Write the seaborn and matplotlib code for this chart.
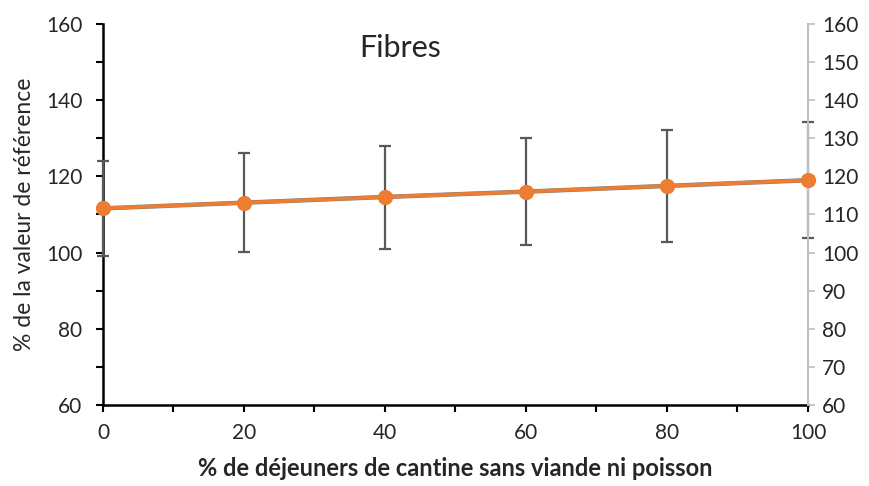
import numpy as np
import matplotlib
matplotlib.use("Agg")
import matplotlib.pyplot as plt
import seaborn as sns
import pandas as pd
from matplotlib.ticker import MultipleLocator

# Données
pct_sans_viande = [0, 20, 40, 60, 80, 100]
moyenne = [111.6, 113.1, 114.6, 116.0, 117.5, 119.0]
borne_haute = [124.0, 126.1, 128.1, 130.1, 132.2, 134.2]
borne_basse = [99.2, 100.1, 101.0, 101.9, 102.9, 103.9]

df = pd.DataFrame({'x': pct_sans_viande, 'y': moyenne})
err_bas = np.array(moyenne) - np.array(borne_basse)
err_haut = np.array(borne_haute) - np.array(moyenne)

sns.set_style("ticks")
plt.rcParams['font.family'] = ['Lato', 'DejaVu Sans']

fig = plt.figure(figsize=(8.69, 4.86), dpi=100)
ax = fig.add_axes([0.1185, 0.1667, 0.8113, 0.7839])
ax2 = ax.twinx()

# série grise (axe principal)
sns.lineplot(data=df, x='x', y='y', ax=ax, color='#7f7f7f', linewidth=3.2, zorder=2)

# barres d'erreur + série orange (axe secondaire)
eb = ax2.errorbar(pct_sans_viande, moyenne, yerr=[err_bas, err_haut], fmt='none',
                  ecolor='#595959', elinewidth=1.6, capsize=4, capthick=1.6, zorder=1)
for art in eb.get_children():
    art.set_clip_on(False)
sns.lineplot(data=df, x='x', y='y', ax=ax2, color='#ed7d31', linewidth=2.6,
             marker='o', markersize=11, markeredgewidth=0, zorder=3)
for ln in ax.lines + ax2.lines:
    ln.set_clip_on(False)

for a in (ax, ax2):
    a.set_xlim(0, 100)
    a.set_ylim(60, 160)

ax.yaxis.set_major_locator(MultipleLocator(20))
ax.yaxis.set_minor_locator(MultipleLocator(10))
ax.xaxis.set_major_locator(MultipleLocator(20))
ax.xaxis.set_minor_locator(MultipleLocator(10))
ax2.yaxis.set_major_locator(MultipleLocator(10))

ax.tick_params(axis='y', which='major', labelsize=15, length=5, width=1.5, color='black', pad=10)
ax.tick_params(axis='x', which='major', labelsize=15, length=5, width=1.5, color='black', pad=8)
ax.tick_params(axis='both', which='minor', length=5, width=1.5, color='black')
ax2.tick_params(axis='y', which='major', labelsize=15, length=5, width=1.2, color='#bfbfbf', pad=5)

for s in ['left', 'bottom']:
    ax.spines[s].set_linewidth(1.8)
    ax.spines[s].set_color('black')
ax.spines['top'].set_visible(False)
ax.spines['right'].set_visible(False)
ax2.spines['top'].set_visible(False)
ax2.spines['left'].set_visible(False)
ax2.spines['bottom'].set_visible(False)
ax2.spines['right'].set_color('#bfbfbf')
ax2.spines['right'].set_linewidth(1.5)

ax.set_ylabel("% de la valeur de référence", fontsize=16.5, labelpad=8)
ax.set_xlabel("% de déjeuners de cantine sans viande ni poisson", fontsize=17,
              fontweight='bold', labelpad=10)
ax2.set_ylabel("")
ax.text(0.421, 0.937, "Fibres", transform=ax.transAxes, fontsize=22,
        ha='center', va='center')

fig.savefig("out.png", dpi=100)
